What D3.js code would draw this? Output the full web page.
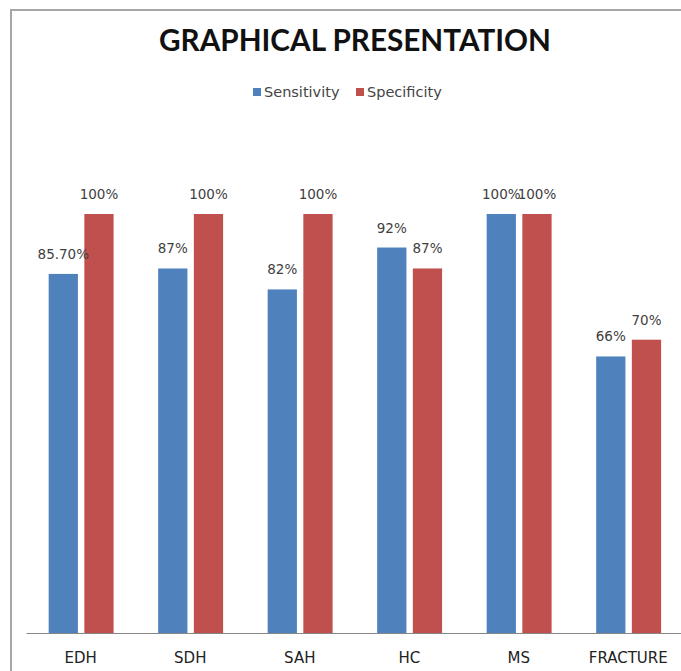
<!DOCTYPE html>
<html lang="en">
<head>
  <meta charset="UTF-8">
  <title>Graphical presentation</title>
  <style>
    body { margin: 0; background: #fff; }
    text { font-family: "DejaVu Sans", sans-serif; }
  </style>
  <script src="https://cdn.jsdelivr.net/npm/d3@7"></script>
</head>
<body>
  <script>
    var categories = ["EDH", "SDH", "SAH", "HC", "MS", "FRACTURE"];
    var series = ["Sensitivity", "Specificity"];
    var sensitivity = [85.7, 87, 82, 92, 100, 66];
    var specificity = [100, 100, 100, 87, 100, 70];
    var valueLabels = [
      ["85.70%", "87%", "82%", "92%", "100%", "66%"],
      ["100%", "100%", "100%", "87%", "100%", "70%"]
    ];
    var colors = ["#4f81bd", "#c0504d"];

    var W = 681, H = 671;
    var svg = d3.select("body").append("svg").attr("width", W).attr("height", H);

    // frame (only left and top edges show)
    svg.append("path")
      .attr("d", "M11,671V10H681")
      .attr("fill", "none")
      .attr("stroke", "#a6a6a6")
      .attr("stroke-width", 2);

    // title
    svg.append("text")
      .attr("x", 355).attr("y", 51)
      .attr("text-anchor", "middle")
      .attr("font-size", 30)
      .attr("font-weight", "bold")
      .attr("fill", "#111")
      .attr("textLength", 392)
      .attr("lengthAdjust", "spacingAndGlyphs")
      .style("font-family", "Lato, sans-serif")
      .text("GRAPHICAL PRESENTATION");

    // legend
    var legendX = [253, 356];
    var legend = svg.append("g").selectAll("g").data(series).join("g")
      .attr("transform", function(d, i) { return "translate(" + legendX[i] + ",88)"; });
    legend.append("rect").attr("width", 8).attr("height", 8)
      .attr("fill", function(d, i) { return colors[i]; });
    legend.append("text").attr("x", 11).attr("y", 9)
      .attr("font-size", 14.5).attr("fill", "#444")
      .text(function(d) { return d; });

    var data = categories.map(function(c, i) {
      return { cat: c, values: [sensitivity[i], specificity[i]] };
    });

    var x = d3.scaleBand().domain(categories).range([26, 683]);
    var x1 = d3.scaleBand().domain([0, 1])
      .range([x.bandwidth() * 0.207, x.bandwidth() * 0.8])
      .paddingInner(0.18);
    var y = d3.scaleLinear().domain([0, 100]).range([633, 214]);

    var groups = svg.append("g").selectAll("g").data(data).join("g")
      .attr("transform", function(d) { return "translate(" + x(d.cat) + ",0)"; });

    function pairs(d, ci) {
      return d.values.map(function(v, si) { return { v: v, s: si, c: ci }; });
    }

    groups.selectAll("rect")
      .data(pairs)
      .join("rect")
      .attr("x", function(d) { return x1(d.s); })
      .attr("y", function(d) { return y(d.v); })
      .attr("width", x1.bandwidth())
      .attr("height", function(d) { return y(0) - y(d.v); })
      .attr("fill", function(d) { return colors[d.s]; });

    // labels sit above each bar; the two MS labels touch, as in the original
    groups.selectAll("text.val")
      .data(pairs)
      .join("text")
      .attr("class", "val")
      .attr("x", function(d) { return x1(d.s) + x1.bandwidth() / 2; })
      .attr("y", function(d) { return y(d.v) - 15; })
      .attr("text-anchor", "middle")
      .attr("font-size", 13.5)
      .attr("fill", "#404040")
      .text(function(d) { return valueLabels[d.s][d.c]; });

    // x axis
    var axis = svg.append("g")
      .attr("transform", "translate(0," + y(0) + ")")
      .call(d3.axisBottom(x).tickSize(0).tickPadding(19));
    axis.select(".domain").attr("stroke", "#868686").attr("stroke-width", 1.2);
    axis.selectAll(".tick text")
      .attr("font-size", 15)
      .attr("fill", "#222")
      .style("font-family", "'DejaVu Sans', sans-serif");
  </script>
</body>
</html>
